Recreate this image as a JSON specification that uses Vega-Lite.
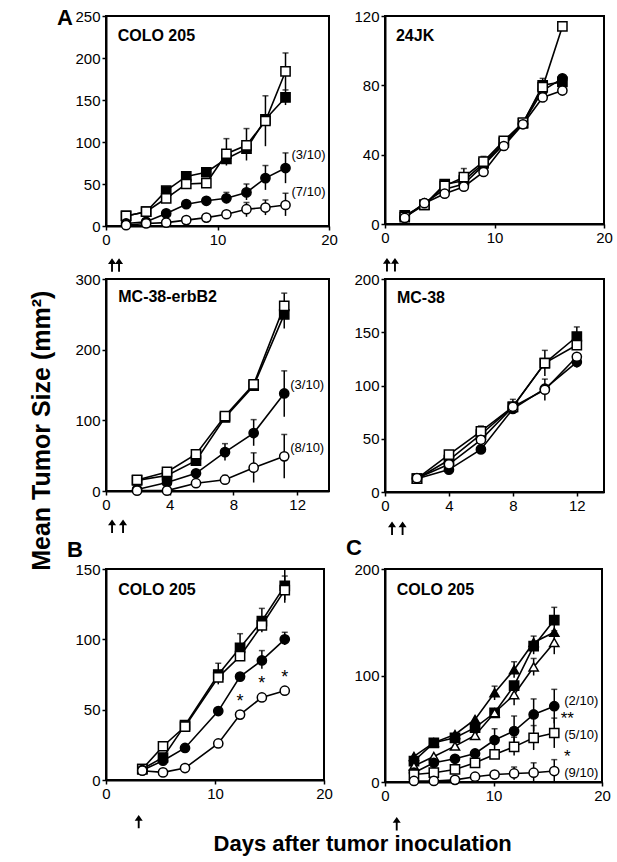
{
"$schema":"https://vega.github.io/schema/vega-lite/v6.json",
"background":"white",
"padding":{"left":30,"top":6,"right":5,"bottom":2},
"title":{"text":"Mean Tumor Size (mm²)","orient":"left","anchor":"middle","font":"Liberation Sans","fontSize":25,"fontWeight":"bold","color":"black","offset":1},
"datasets":{
"a1":[
{"d":1.8,"v":12,"g":"fs"},{"d":3.6,"v":17,"g":"fs"},{"d":5.4,"v":42,"g":"fs"},{"d":7.2,"v":59,"g":"fs"},{"d":9.0,"v":64,"g":"fs"},{"d":10.8,"v":80,"g":"fs"},{"d":12.6,"v":92,"g":"fs"},{"d":14.3,"v":127,"g":"fs"},{"d":16.1,"v":153,"g":"fs","lo":144,"hi":162},
{"d":1.8,"v":12,"g":"os"},{"d":3.6,"v":17,"g":"os"},{"d":5.4,"v":33,"g":"os"},{"d":7.2,"v":50,"g":"os"},{"d":9.0,"v":51,"g":"os"},{"d":10.8,"v":86,"g":"os","lo":72,"hi":104},{"d":12.6,"v":96,"g":"os","lo":78,"hi":116},{"d":14.3,"v":125,"g":"os","lo":95,"hi":155},{"d":16.1,"v":184,"g":"os","lo":162,"hi":206},
{"d":1.8,"v":3,"g":"fc"},{"d":3.6,"v":5,"g":"fc"},{"d":5.4,"v":15,"g":"fc"},{"d":7.2,"v":26,"g":"fc"},{"d":9.0,"v":30,"g":"fc"},{"d":10.8,"v":33,"g":"fc","lo":27,"hi":40},{"d":12.6,"v":40,"g":"fc","lo":31,"hi":50},{"d":14.3,"v":57,"g":"fc","lo":43,"hi":72},{"d":16.1,"v":69,"g":"fc","lo":51,"hi":87,"lab":"(3/10)"},
{"d":1.8,"v":1,"g":"oc"},{"d":3.6,"v":3,"g":"oc"},{"d":5.4,"v":4,"g":"oc"},{"d":7.2,"v":7,"g":"oc"},{"d":9.0,"v":10,"g":"oc"},{"d":10.8,"v":14,"g":"oc"},{"d":12.6,"v":20,"g":"oc","lo":11,"hi":28},{"d":14.3,"v":22,"g":"oc","lo":13,"hi":31},{"d":16.1,"v":25,"g":"oc","lo":12,"hi":39,"lab":"(7/10)"}
],
"a2":[
{"d":1.8,"v":5,"g":"fs"},{"d":3.6,"v":11,"g":"fs"},{"d":5.45,"v":23,"g":"fs"},{"d":7.2,"v":25,"g":"fs"},{"d":9.0,"v":35,"g":"fs","lo":30,"hi":39},{"d":10.85,"v":47,"g":"fs"},{"d":12.6,"v":58,"g":"fs"},{"d":14.4,"v":80,"g":"fs","lo":75,"hi":84},{"d":16.2,"v":82,"g":"fs"},
{"d":1.8,"v":4,"g":"fc"},{"d":3.6,"v":12,"g":"fc"},{"d":5.45,"v":20,"g":"fc"},{"d":7.2,"v":23,"g":"fc"},{"d":9.0,"v":34,"g":"fc"},{"d":10.85,"v":46,"g":"fc"},{"d":12.6,"v":58,"g":"fc"},{"d":14.4,"v":77,"g":"fc"},{"d":16.2,"v":84,"g":"fc"},
{"d":1.8,"v":4,"g":"os"},{"d":3.6,"v":11,"g":"os"},{"d":5.45,"v":22,"g":"os"},{"d":7.2,"v":27,"g":"os","lo":22,"hi":32},{"d":9.0,"v":36,"g":"os"},{"d":10.85,"v":48,"g":"os"},{"d":12.6,"v":58.5,"g":"os"},{"d":14.4,"v":79,"g":"os"},{"d":16.2,"v":114,"g":"os"},
{"d":1.8,"v":3.5,"g":"oc"},{"d":3.6,"v":12,"g":"oc"},{"d":5.45,"v":17.5,"g":"oc"},{"d":7.2,"v":21.5,"g":"oc"},{"d":9.0,"v":30,"g":"oc"},{"d":10.85,"v":45,"g":"oc"},{"d":12.6,"v":57.5,"g":"oc"},{"d":14.4,"v":73,"g":"oc"},{"d":16.2,"v":77,"g":"oc"}
],
"a3":[
{"d":1.95,"v":15,"g":"fs"},{"d":3.83,"v":22,"g":"fs"},{"d":5.65,"v":43,"g":"fs"},{"d":7.47,"v":104,"g":"fs"},{"d":9.27,"v":149,"g":"fs"},{"d":11.19,"v":250,"g":"fs","lo":230,"hi":262},
{"d":1.95,"v":15.6,"g":"os"},{"d":3.83,"v":27,"g":"os"},{"d":5.65,"v":52,"g":"os"},{"d":7.47,"v":106,"g":"os"},{"d":9.27,"v":151,"g":"os","lo":145,"hi":157},{"d":11.19,"v":262,"g":"os","lo":250,"hi":280},
{"d":1.95,"v":2,"g":"fc"},{"d":3.83,"v":12,"g":"fc"},{"d":5.65,"v":25,"g":"fc"},{"d":7.47,"v":55,"g":"fc","lo":43,"hi":67},{"d":9.27,"v":82,"g":"fc","lo":64,"hi":101},{"d":11.19,"v":138,"g":"fc","lo":105,"hi":170,"lab":"(3/10)"},
{"d":1.95,"v":0.5,"g":"oc"},{"d":3.83,"v":0.5,"g":"oc"},{"d":5.65,"v":11,"g":"oc"},{"d":7.47,"v":16,"g":"oc","lo":10,"hi":22},{"d":9.27,"v":33,"g":"oc","lo":12,"hi":54},{"d":11.19,"v":49,"g":"oc","lo":18,"hi":80,"lab":"(8/10)"}
],
"a4":[
{"d":2,"v":12.5,"g":"fs"},{"d":4,"v":30,"g":"fs"},{"d":6,"v":54,"g":"fs"},{"d":8,"v":80,"g":"fs","lo":75,"hi":87},{"d":10,"v":121,"g":"fs"},{"d":12,"v":146,"g":"fs","lo":136,"hi":155},
{"d":2,"v":12.5,"g":"fc"},{"d":4,"v":21,"g":"fc"},{"d":6,"v":40,"g":"fc"},{"d":8,"v":78,"g":"fc"},{"d":10,"v":97,"g":"fc"},{"d":12,"v":122,"g":"fc","lo":117,"hi":128},
{"d":2,"v":12.5,"g":"os"},{"d":4,"v":35,"g":"os"},{"d":6,"v":57,"g":"os","lo":52,"hi":62},{"d":8,"v":80,"g":"os"},{"d":10,"v":121,"g":"os","lo":109,"hi":133},{"d":12,"v":138,"g":"os"},
{"d":2,"v":13,"g":"oc"},{"d":4,"v":26,"g":"oc"},{"d":6,"v":49,"g":"oc"},{"d":8,"v":80,"g":"oc"},{"d":10,"v":96,"g":"oc","lo":86,"hi":106},{"d":12,"v":127,"g":"oc"}
],
"b":[
{"d":3.33,"v":7.8,"g":"fs"},{"d":5.23,"v":16,"g":"fs"},{"d":7.25,"v":39,"g":"fs"},{"d":10.3,"v":75,"g":"fs","lo":68,"hi":83},{"d":12.3,"v":94,"g":"fs","lo":86,"hi":104},{"d":14.3,"v":113,"g":"fs","lo":105,"hi":122},{"d":16.4,"v":138,"g":"fs","lo":128,"hi":150},
{"d":3.33,"v":7.8,"g":"os"},{"d":5.23,"v":24,"g":"os"},{"d":7.25,"v":38,"g":"os"},{"d":10.3,"v":73,"g":"os"},{"d":12.3,"v":88,"g":"os"},{"d":14.3,"v":110,"g":"os"},{"d":16.4,"v":135,"g":"os","lo":126,"hi":145},
{"d":3.33,"v":7,"g":"fc"},{"d":5.23,"v":13.7,"g":"fc"},{"d":7.25,"v":22.8,"g":"fc"},{"d":10.3,"v":49,"g":"fc"},{"d":12.3,"v":73.5,"g":"fc"},{"d":14.3,"v":85,"g":"fc","lo":79,"hi":92},{"d":16.4,"v":100,"g":"fc","lo":96,"hi":105},
{"d":3.33,"v":6.6,"g":"oc"},{"d":5.23,"v":5.4,"g":"oc"},{"d":7.25,"v":8.5,"g":"oc"},{"d":10.3,"v":26,"g":"oc"},{"d":12.3,"v":46.5,"g":"oc","st":"*"},{"d":14.3,"v":58.7,"g":"oc","st":"*"},{"d":16.4,"v":63.5,"g":"oc","st":"*"}
],
"c":[
{"d":2.67,"v":19.7,"g":"fs"},{"d":4.5,"v":36.8,"g":"fs"},{"d":6.45,"v":41.5,"g":"fs"},{"d":8.3,"v":51,"g":"fs"},{"d":10.1,"v":65,"g":"fs"},{"d":11.9,"v":90.5,"g":"fs"},{"d":13.7,"v":127.5,"g":"fs","lo":120,"hi":137},{"d":15.6,"v":152,"g":"fs","lo":140,"hi":164},
{"d":2.67,"v":24,"g":"ft"},{"d":4.5,"v":37,"g":"ft"},{"d":6.45,"v":44.6,"g":"ft"},{"d":8.3,"v":58.7,"g":"ft"},{"d":10.1,"v":83.7,"g":"ft","lo":77,"hi":90},{"d":11.9,"v":105.5,"g":"ft","lo":98,"hi":113},{"d":13.7,"v":131,"g":"ft"},{"d":15.6,"v":140.6,"g":"ft"},
{"d":2.67,"v":15,"g":"ot"},{"d":4.5,"v":24,"g":"ot"},{"d":6.45,"v":33.7,"g":"ot"},{"d":8.3,"v":43.7,"g":"ot"},{"d":10.1,"v":65,"g":"ot"},{"d":11.9,"v":82,"g":"ot","lo":72,"hi":90},{"d":13.7,"v":108,"g":"ot","lo":100,"hi":116},{"d":15.6,"v":131,"g":"ot","lo":120,"hi":142},
{"d":2.67,"v":8.7,"g":"fc"},{"d":4.5,"v":18,"g":"fc"},{"d":6.45,"v":21.8,"g":"fc"},{"d":8.3,"v":26.8,"g":"fc"},{"d":10.1,"v":39.4,"g":"fc","lo":30,"hi":50},{"d":11.9,"v":47.8,"g":"fc","lo":34,"hi":62},{"d":13.7,"v":63.4,"g":"fc","lo":48,"hi":78},{"d":15.6,"v":71.2,"g":"fc","lo":55,"hi":87,"lab":"(2/10)"},
{"d":2.67,"v":7,"g":"os"},{"d":4.5,"v":8.7,"g":"os"},{"d":6.45,"v":11.8,"g":"os"},{"d":8.3,"v":18,"g":"os"},{"d":10.1,"v":25.9,"g":"os"},{"d":11.9,"v":33,"g":"os","lo":25,"hi":42},{"d":13.7,"v":41.5,"g":"os","lo":30,"hi":53},{"d":15.6,"v":46,"g":"os","lo":32,"hi":60,"lab":"(5/10)","st":"**"},
{"d":2.67,"v":1,"g":"oc"},{"d":4.5,"v":1,"g":"oc"},{"d":6.45,"v":2,"g":"oc"},{"d":8.3,"v":5,"g":"oc"},{"d":10.1,"v":7,"g":"oc"},{"d":11.9,"v":8,"g":"oc","lo":2,"hi":14},{"d":13.7,"v":8.7,"g":"oc","lo":0,"hi":18},{"d":15.6,"v":10.3,"g":"oc","lo":0,"hi":21,"lab":"(9/10)","st":"*"}
],
"arr1":[{"d":0.54},{"d":1.17}],
"arr2":[{"d":0.18},{"d":0.91}],
"arr3":[{"d":0.38},{"d":1.07}],
"arr4":[{"d":0.44},{"d":1.1}],
"arrb":[{"d":3.0}],
"arrc":[{"d":1.08}],
"one":[{"n":1}]
},
"vconcat":[
{
"title":{"text":"Days after tumor inoculation","orient":"bottom","anchor":"middle","font":"Liberation Sans","fontSize":22,"fontWeight":"bold","color":"black","offset":3,"dx":28},
"columns":2,
"align":"each",
"spacing":{"row":-2,"column":6},
"concat":[
{
"width":223,"height":210,
"layer":[
{"data":{"name":"a1"},"mark":{"type":"line","color":"black","strokeWidth":1.6},"encoding":{"x":{"field":"d","type":"quantitative","scale":{"domain":[0,20],"nice":false,"padding":0},"axis":{"values":[0,10,20],"title":null}},"y":{"field":"v","type":"quantitative","scale":{"domain":[0,250],"nice":false,"padding":0},"axis":{"values":[0,50,100,150,200,250],"title":null}},"detail":{"field":"g"}}},
{"data":{"name":"a1"},"transform":[{"filter":"isValid(datum.hi)"}],"mark":{"type":"rule","color":"black","strokeWidth":1.5},"encoding":{"x":{"field":"d","type":"quantitative","title":null},"y":{"field":"lo","type":"quantitative","title":null},"y2":{"field":"hi"}}},
{"data":{"name":"a1"},"transform":[{"filter":"isValid(datum.hi)"}],"mark":{"type":"tick","color":"black","orient":"horizontal","size":6,"thickness":1.5},"encoding":{"x":{"field":"d","type":"quantitative","title":null},"y":{"field":"hi","type":"quantitative","title":null}}},
{"data":{"name":"a1"},"mark":{"type":"point","filled":true,"stroke":"black","strokeWidth":1.5,"size":85,"opacity":1},"encoding":{"x":{"field":"d","type":"quantitative","title":null},"y":{"field":"v","type":"quantitative","title":null},"shape":{"field":"g","type":"nominal","legend":null,"scale":{"domain":["fs","os","fc","oc","ft","ot"],"range":["square","square","circle","circle","triangle-up","triangle-up"]}},"fill":{"field":"g","type":"nominal","legend":null,"scale":{"domain":["fs","os","fc","oc","ft","ot"],"range":["black","white","black","white","black","white"]}}}},
{"data":{"name":"a1"},"transform":[{"filter":"isValid(datum.lab)"}],"mark":{"type":"text","align":"left","baseline":"middle","dx":6,"dy":-13,"font":"Liberation Sans","fontSize":13,"color":"black"},"encoding":{"x":{"field":"d","type":"quantitative","title":null},"y":{"field":"v","type":"quantitative","title":null},"text":{"field":"lab"}}},
{"data":{"name":"one"},"mark":{"type":"text","text":"COLO 205","align":"left","baseline":"middle","font":"Liberation Sans","fontSize":16,"fontWeight":"bold","color":"black"},"encoding":{"x":{"datum":1.05,"type":"quantitative"},"y":{"datum":226,"type":"quantitative"}}},
{"data":{"name":"one"},"mark":{"type":"text","text":"A","align":"center","baseline":"middle","font":"Liberation Sans","fontSize":22,"fontWeight":"bold","color":"black","clip":false},"encoding":{"x":{"datum":-3.68,"type":"quantitative"},"y":{"datum":247.6,"type":"quantitative"}}},
{"data":{"name":"arr1"},"mark":{"type":"point","shape":"M0,-1L-0.6,-0.15L-0.14,-0.15L-0.14,1L0.14,1L0.14,-0.15L0.6,-0.15Z","filled":true,"color":"black","size":180,"opacity":1,"clip":false},"encoding":{"x":{"field":"d","type":"quantitative","title":null},"y":{"datum":-46.4,"type":"quantitative"}}}
]
},
{
"width":219,"height":208,
"layer":[
{"data":{"name":"a2"},"mark":{"type":"line","color":"black","strokeWidth":1.6},"encoding":{"x":{"field":"d","type":"quantitative","scale":{"domain":[0,20],"nice":false,"padding":0},"axis":{"values":[0,10,20],"title":null}},"y":{"field":"v","type":"quantitative","scale":{"domain":[0,120],"nice":false,"padding":0},"axis":{"values":[0,20,40,60,80,100,120],"title":null}},"detail":{"field":"g"}}},
{"data":{"name":"a2"},"transform":[{"filter":"isValid(datum.hi)"}],"mark":{"type":"rule","color":"black","strokeWidth":1.5},"encoding":{"x":{"field":"d","type":"quantitative","title":null},"y":{"field":"lo","type":"quantitative","title":null},"y2":{"field":"hi"}}},
{"data":{"name":"a2"},"transform":[{"filter":"isValid(datum.hi)"}],"mark":{"type":"tick","color":"black","orient":"horizontal","size":6,"thickness":1.5},"encoding":{"x":{"field":"d","type":"quantitative","title":null},"y":{"field":"hi","type":"quantitative","title":null}}},
{"data":{"name":"a2"},"mark":{"type":"point","filled":true,"stroke":"black","strokeWidth":1.5,"size":85,"opacity":1},"encoding":{"x":{"field":"d","type":"quantitative","title":null},"y":{"field":"v","type":"quantitative","title":null},"shape":{"field":"g","type":"nominal","legend":null,"scale":{"domain":["fs","os","fc","oc","ft","ot"],"range":["square","square","circle","circle","triangle-up","triangle-up"]}},"fill":{"field":"g","type":"nominal","legend":null,"scale":{"domain":["fs","os","fc","oc","ft","ot"],"range":["black","white","black","white","black","white"]}}}},
{"data":{"name":"one"},"mark":{"type":"text","text":"24JK","align":"left","baseline":"middle","font":"Liberation Sans","fontSize":16,"fontWeight":"bold","color":"black"},"encoding":{"x":{"datum":1.0,"type":"quantitative"},"y":{"datum":108.5,"type":"quantitative"}}},
{"data":{"name":"arr2"},"mark":{"type":"point","shape":"M0,-1L-0.6,-0.15L-0.14,-0.15L-0.14,1L0.14,1L0.14,-0.15L0.6,-0.15Z","filled":true,"color":"black","size":180,"opacity":1,"clip":false},"encoding":{"x":{"field":"d","type":"quantitative","title":null},"y":{"datum":-23.5,"type":"quantitative"}}}
]
},
{
"width":223,"height":212,
"layer":[
{"data":{"name":"a3"},"mark":{"type":"line","color":"black","strokeWidth":1.6},"encoding":{"x":{"field":"d","type":"quantitative","scale":{"domain":[0,14],"nice":false,"padding":0},"axis":{"values":[0,4,8,12],"title":null}},"y":{"field":"v","type":"quantitative","scale":{"domain":[0,300],"nice":false,"padding":0},"axis":{"values":[0,50,100,150,200,250,300],"title":null}},"detail":{"field":"g"}}},
{"data":{"name":"a3"},"transform":[{"filter":"isValid(datum.hi)"}],"mark":{"type":"rule","color":"black","strokeWidth":1.5},"encoding":{"x":{"field":"d","type":"quantitative","title":null},"y":{"field":"lo","type":"quantitative","title":null},"y2":{"field":"hi"}}},
{"data":{"name":"a3"},"transform":[{"filter":"isValid(datum.hi)"}],"mark":{"type":"tick","color":"black","orient":"horizontal","size":6,"thickness":1.5},"encoding":{"x":{"field":"d","type":"quantitative","title":null},"y":{"field":"hi","type":"quantitative","title":null}}},
{"data":{"name":"a3"},"mark":{"type":"point","filled":true,"stroke":"black","strokeWidth":1.5,"size":85,"opacity":1},"encoding":{"x":{"field":"d","type":"quantitative","title":null},"y":{"field":"v","type":"quantitative","title":null},"shape":{"field":"g","type":"nominal","legend":null,"scale":{"domain":["fs","os","fc","oc","ft","ot"],"range":["square","square","circle","circle","triangle-up","triangle-up"]}},"fill":{"field":"g","type":"nominal","legend":null,"scale":{"domain":["fs","os","fc","oc","ft","ot"],"range":["black","white","black","white","black","white"]}}}},
{"data":{"name":"a3"},"transform":[{"filter":"isValid(datum.lab)"}],"mark":{"type":"text","align":"left","baseline":"middle","dx":6,"dy":-8,"font":"Liberation Sans","fontSize":13,"color":"black"},"encoding":{"x":{"field":"d","type":"quantitative","title":null},"y":{"field":"v","type":"quantitative","title":null},"text":{"field":"lab"}}},
{"data":{"name":"one"},"mark":{"type":"text","text":"MC-38-erbB2","align":"left","baseline":"middle","font":"Liberation Sans","fontSize":16,"fontWeight":"bold","color":"black"},"encoding":{"x":{"datum":0.77,"type":"quantitative"},"y":{"datum":274,"type":"quantitative"}}},
{"data":{"name":"one"},"mark":{"type":"text","text":"B","align":"center","baseline":"middle","font":"Liberation Sans","fontSize":22,"fontWeight":"bold","color":"black","clip":false},"encoding":{"x":{"datum":-1.95,"type":"quantitative"},"y":{"datum":-83.9,"type":"quantitative"}}},
{"data":{"name":"arr3"},"mark":{"type":"point","shape":"M0,-1L-0.6,-0.15L-0.14,-0.15L-0.14,1L0.14,1L0.14,-0.15L0.6,-0.15Z","filled":true,"color":"black","size":180,"opacity":1,"clip":false},"encoding":{"x":{"field":"d","type":"quantitative","title":null},"y":{"datum":-49.8,"type":"quantitative"}}}
]
},
{
"width":219,"height":213,
"layer":[
{"data":{"name":"a4"},"mark":{"type":"line","color":"black","strokeWidth":1.6},"encoding":{"x":{"field":"d","type":"quantitative","scale":{"domain":[0,13.7],"nice":false,"padding":0},"axis":{"values":[0,4,8,12],"title":null}},"y":{"field":"v","type":"quantitative","scale":{"domain":[0,200],"nice":false,"padding":0},"axis":{"values":[0,50,100,150,200],"title":null}},"detail":{"field":"g"}}},
{"data":{"name":"a4"},"transform":[{"filter":"isValid(datum.hi)"}],"mark":{"type":"rule","color":"black","strokeWidth":1.5},"encoding":{"x":{"field":"d","type":"quantitative","title":null},"y":{"field":"lo","type":"quantitative","title":null},"y2":{"field":"hi"}}},
{"data":{"name":"a4"},"transform":[{"filter":"isValid(datum.hi)"}],"mark":{"type":"tick","color":"black","orient":"horizontal","size":6,"thickness":1.5},"encoding":{"x":{"field":"d","type":"quantitative","title":null},"y":{"field":"hi","type":"quantitative","title":null}}},
{"data":{"name":"a4"},"mark":{"type":"point","filled":true,"stroke":"black","strokeWidth":1.5,"size":85,"opacity":1},"encoding":{"x":{"field":"d","type":"quantitative","title":null},"y":{"field":"v","type":"quantitative","title":null},"shape":{"field":"g","type":"nominal","legend":null,"scale":{"domain":["fs","os","fc","oc","ft","ot"],"range":["square","square","circle","circle","triangle-up","triangle-up"]}},"fill":{"field":"g","type":"nominal","legend":null,"scale":{"domain":["fs","os","fc","oc","ft","ot"],"range":["black","white","black","white","black","white"]}}}},
{"data":{"name":"one"},"mark":{"type":"text","text":"MC-38","align":"left","baseline":"middle","font":"Liberation Sans","fontSize":16,"fontWeight":"bold","color":"black"},"encoding":{"x":{"datum":0.75,"type":"quantitative"},"y":{"datum":182,"type":"quantitative"}}},
{"data":{"name":"one"},"mark":{"type":"text","text":"C","align":"center","baseline":"middle","font":"Liberation Sans","fontSize":22,"fontWeight":"bold","color":"black","clip":false},"encoding":{"x":{"datum":-1.94,"type":"quantitative"},"y":{"datum":-52.9,"type":"quantitative"}}},
{"data":{"name":"arr4"},"mark":{"type":"point","shape":"M0,-1L-0.6,-0.15L-0.14,-0.15L-0.14,1L0.14,1L0.14,-0.15L0.6,-0.15Z","filled":true,"color":"black","size":180,"opacity":1,"clip":false},"encoding":{"x":{"field":"d","type":"quantitative","title":null},"y":{"datum":-34,"type":"quantitative"}}}
]
},
{
"width":218,"height":211,
"layer":[
{"data":{"name":"b"},"mark":{"type":"line","color":"black","strokeWidth":1.6},"encoding":{"x":{"field":"d","type":"quantitative","scale":{"domain":[0,20],"nice":false,"padding":0},"axis":{"values":[0,10,20],"title":null}},"y":{"field":"v","type":"quantitative","scale":{"domain":[0,150],"nice":false,"padding":0},"axis":{"values":[0,50,100,150],"title":null}},"detail":{"field":"g"}}},
{"data":{"name":"b"},"transform":[{"filter":"isValid(datum.hi)"}],"mark":{"type":"rule","color":"black","strokeWidth":1.5},"encoding":{"x":{"field":"d","type":"quantitative","title":null},"y":{"field":"lo","type":"quantitative","title":null},"y2":{"field":"hi"}}},
{"data":{"name":"b"},"transform":[{"filter":"isValid(datum.hi)"}],"mark":{"type":"tick","color":"black","orient":"horizontal","size":6,"thickness":1.5},"encoding":{"x":{"field":"d","type":"quantitative","title":null},"y":{"field":"hi","type":"quantitative","title":null}}},
{"data":{"name":"b"},"mark":{"type":"point","filled":true,"stroke":"black","strokeWidth":1.5,"size":85,"opacity":1},"encoding":{"x":{"field":"d","type":"quantitative","title":null},"y":{"field":"v","type":"quantitative","title":null},"shape":{"field":"g","type":"nominal","legend":null,"scale":{"domain":["fs","os","fc","oc","ft","ot"],"range":["square","square","circle","circle","triangle-up","triangle-up"]}},"fill":{"field":"g","type":"nominal","legend":null,"scale":{"domain":["fs","os","fc","oc","ft","ot"],"range":["black","white","black","white","black","white"]}}}},
{"data":{"name":"b"},"transform":[{"filter":"isValid(datum.st)"}],"mark":{"type":"text","align":"center","baseline":"middle","dy":-13,"font":"Liberation Sans","fontSize":18,"color":"black"},"encoding":{"x":{"field":"d","type":"quantitative","title":null},"y":{"field":"v","type":"quantitative","title":null},"text":{"field":"st"}}},
{"data":{"name":"one"},"mark":{"type":"text","text":"COLO 205","align":"left","baseline":"middle","font":"Liberation Sans","fontSize":16,"fontWeight":"bold","color":"black"},"encoding":{"x":{"datum":1.13,"type":"quantitative"},"y":{"datum":135,"type":"quantitative"}}},
{"data":{"name":"arrb"},"mark":{"type":"point","shape":"M0,-1L-0.6,-0.15L-0.14,-0.15L-0.14,1L0.14,1L0.14,-0.15L0.6,-0.15Z","filled":true,"color":"black","size":180,"opacity":1,"clip":false},"encoding":{"x":{"field":"d","type":"quantitative","title":null},"y":{"datum":-29.6,"type":"quantitative"}}}
]
},
{
"width":217,"height":213,
"layer":[
{"data":{"name":"c"},"mark":{"type":"line","color":"black","strokeWidth":1.6},"encoding":{"x":{"field":"d","type":"quantitative","scale":{"domain":[0,20],"nice":false,"padding":0},"axis":{"values":[0,10,20],"title":null}},"y":{"field":"v","type":"quantitative","scale":{"domain":[0,200],"nice":false,"padding":0},"axis":{"values":[0,100,200],"title":null}},"detail":{"field":"g"}}},
{"data":{"name":"c"},"transform":[{"filter":"isValid(datum.hi)"}],"mark":{"type":"rule","color":"black","strokeWidth":1.5},"encoding":{"x":{"field":"d","type":"quantitative","title":null},"y":{"field":"lo","type":"quantitative","title":null},"y2":{"field":"hi"}}},
{"data":{"name":"c"},"transform":[{"filter":"isValid(datum.hi)"}],"mark":{"type":"tick","color":"black","orient":"horizontal","size":6,"thickness":1.5},"encoding":{"x":{"field":"d","type":"quantitative","title":null},"y":{"field":"hi","type":"quantitative","title":null}}},
{"data":{"name":"c"},"mark":{"type":"point","filled":true,"stroke":"black","strokeWidth":1.5,"size":85,"opacity":1},"encoding":{"x":{"field":"d","type":"quantitative","title":null},"y":{"field":"v","type":"quantitative","title":null},"shape":{"field":"g","type":"nominal","legend":null,"scale":{"domain":["fs","os","fc","oc","ft","ot"],"range":["square","square","circle","circle","triangle-up","triangle-up"]}},"fill":{"field":"g","type":"nominal","legend":null,"scale":{"domain":["fs","os","fc","oc","ft","ot"],"range":["black","white","black","white","black","white"]}}}},
{"data":{"name":"c"},"transform":[{"filter":"isValid(datum.lab) && datum.g == 'fc'"}],"mark":{"type":"text","align":"left","baseline":"middle","dx":10,"dy":-5,"font":"Liberation Sans","fontSize":13,"color":"black"},"encoding":{"x":{"field":"d","type":"quantitative","title":null},"y":{"field":"v","type":"quantitative","title":null},"text":{"field":"lab"}}},
{"data":{"name":"c"},"transform":[{"filter":"isValid(datum.lab) && datum.g != 'fc'"}],"mark":{"type":"text","align":"left","baseline":"middle","dx":10,"dy":2,"font":"Liberation Sans","fontSize":13,"color":"black"},"encoding":{"x":{"field":"d","type":"quantitative","title":null},"y":{"field":"v","type":"quantitative","title":null},"text":{"field":"lab"}}},
{"data":{"name":"c"},"transform":[{"filter":"isValid(datum.st)"}],"mark":{"type":"text","align":"center","baseline":"middle","dx":13,"dy":-14,"font":"Liberation Sans","fontSize":17,"color":"black"},"encoding":{"x":{"field":"d","type":"quantitative","title":null},"y":{"field":"v","type":"quantitative","title":null},"text":{"field":"st"}}},
{"data":{"name":"one"},"mark":{"type":"text","text":"COLO 205","align":"left","baseline":"middle","font":"Liberation Sans","fontSize":16,"fontWeight":"bold","color":"black"},"encoding":{"x":{"datum":1.08,"type":"quantitative"},"y":{"datum":180.5,"type":"quantitative"}}},
{"data":{"name":"arrc"},"mark":{"type":"point","shape":"M0,-1L-0.6,-0.15L-0.14,-0.15L-0.14,1L0.14,1L0.14,-0.15L0.6,-0.15Z","filled":true,"color":"black","size":180,"opacity":1,"clip":false},"encoding":{"x":{"field":"d","type":"quantitative","title":null},"y":{"datum":-39.2,"type":"quantitative"}}}
]
}
]
}
],
"config":{
"font":"Liberation Sans",
"view":{"stroke":"black","strokeWidth":2},
"scale":{"continuousPadding":0},
"axis":{"labelFont":"Liberation Sans","labelFontSize":15,"labelColor":"black","domainColor":"black","domainWidth":2,"tickColor":"black","tickWidth":1.5,"tickSize":4,"labelPadding":2,"grid":false,"labelFlush":false,"labelOverlap":false,"labelBound":false}
}
}
